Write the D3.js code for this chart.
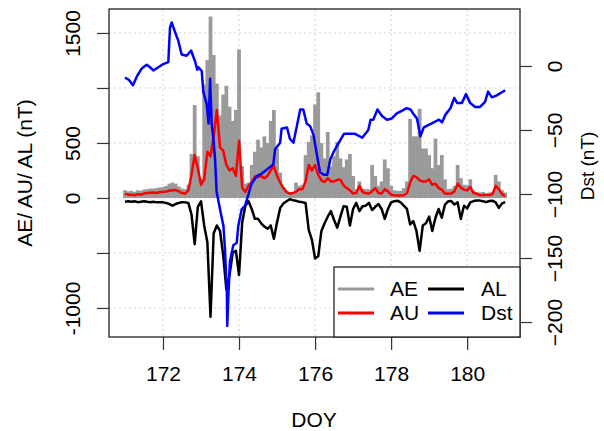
<!DOCTYPE html>
<html>
<head>
<meta charset="utf-8">
<script src="https://cdn.jsdelivr.net/npm/d3@7"></script>
<style>
  body { margin: 0; background: #fff; }
  text { font-family: "Liberation Sans", Arial, sans-serif; fill: #000; }
</style>
</head>
<body>
<div id="chart"></div>
<script>
// 2-hourly samples starting at DOY 171.0
var aeVals = [70,60,65,55,70,65,75,80,85,85, 90,95,100,110,130,140,130,105,85,80,
  120,400,845,380,180,1030,1255,1650,1300,1040, 750,940,1020,830,700,800,1350,290,130,140,
  300,420,530,460,560,500,700,800,450,230, 100,60,40,55,140,110,120,390,510,570,
  850,960,500,360,600,290,380,510,360,280, 350,400,200,80,150,85,80,80,300,200,
  110,150,350,270,110,70,65,65,90,150, 720,560,560,810,450,450,390,270,540,300,
  390,170,80,85,110,300,180,120,115,170, 70,55,50,55,40,50,55,210,150,70,
  50];

var auVals = [40,30,30,25,35,30,40,45,48,50, 45,55,55,58,65,70,73,60,45,40,
  70,210,390,270,120,170,420,380,560,800, 460,430,300,250,270,200,520,90,55,110,
  145,195,190,200,180,200,250,290,200,140, 90,55,40,45,55,80,80,150,300,250,
  300,210,160,145,180,150,150,165,165,115, 90,70,40,45,110,55,42,40,60,90,
  45,40,80,60,30,25,22,22,25,45, 140,200,190,160,150,150,170,120,130,90,
  75,40,38,40,60,130,95,75,70,100, 45,38,25,27,30,25,35,110,80,35,
  15];

var alVals = [-35,-30,-35,-30,-38,-35,-30,-35,-38,-35, -40,-38,-40,-45,-55,-70,-55,-45,-38,-40,
  -45,-150,-420,-80,-30,-250,-400,-1080,-320,-250, -300,-520,-830,-700,-500,-480,-700,-220,-70,-30,
  -100,-190,-190,-230,-260,-280,-250,-370,-220,-90, -50,-30,-12,-20,-25,-35,-38,-45,-290,-380,
  -550,-530,-300,-230,-170,-120,-200,-270,-170,-75, -80,-250,-100,-45,-120,-75,-70,-45,-110,-80,
  -55,-100,-190,-100,-40,-30,-25,-40,-70,-100, -240,-210,-300,-480,-250,-230,-170,-300,-180,-100,
  -180,-60,-30,-28,-60,-40,-190,-70,-95,-40, -28,-24,-24,-30,-38,-28,-25,-40,-90,-50,
  -38];

var dstDoy = [171.0,171.105,171.21,171.316,171.44,171.57,171.66,171.745,171.876,172.008,
  172.14,172.184,172.229,172.276,172.36,172.40,172.49,172.62,172.74,172.80,
  172.84,172.90,172.93,173.02,173.06,173.15,173.20,173.24,173.28,173.32,
  173.37,173.41,173.50,173.59,173.63,173.68,173.69,173.72,173.76,173.85,
  173.94,173.98,174.07,174.16,174.24,174.33,174.47,174.60,174.77,174.90,
  174.95,175.08,175.12,175.26,175.34,175.43,175.52,175.61,175.69,175.78,
  175.87,175.96,176.04,176.13,176.23,176.32,176.40,176.49,176.62,176.76,
  176.89,177.05,177.24,177.40,177.46,177.53,177.64,177.76,177.89,178.02,
  178.15,178.28,178.41,178.51,178.60,178.68,178.77,178.86,178.99,179.12,
  179.26,179.34,179.43,179.56,179.66,179.74,179.86,179.97,180.08,180.21,
  180.34,180.47,180.55,180.65,180.78,180.91,181.0];

var dstVals = [-9,-11,-15,-8,-2,1,-1,-3.5,-1,1.5,
  3,30,34,30,23,20,9,8,12,7,
  4,-3,-1,-4,-20,-30,-45,-10,-45,-55,
  -73,-98,-112,-125,-143,-177,-203,-179,-153,-140,
  -138,-125,-112,-109,-101,-92,-86,-84,-80,-77,
  -65,-60,-49,-48,-57,-60,-47,-34,-34,-45,
  -47,-54,-68,-83,-85,-85,-73,-67,-60,-53,
  -53,-53,-56,-50,-42,-42,-34,-39,-42,-41,
  -37,-35,-33,-34,-38,-41,-55,-48,-46,-44,
  -42,-44,-38,-33,-25,-29,-29,-22,-29,-32,
  -32,-28,-20,-24.5,-23,-20.5,-19];

var doyTicks = [172, 174, 176, 178, 180];
var leftTicks = [-1000, -500, 0, 500, 1000, 1500];
var leftLabels = [-1000, 0, 500, 1500];
var dstTicks = [0, -50, -100, -150, -200];
var legendNames = ["AE", "AU", "AL", "Dst"];
var legendColors = ["#999999", "#ff0000", "#000000", "#0000ff"];

var w = 604, h = 431;
var plotL = 109, plotR = 520, plotT = 9, plotB = 337;

var svg = d3.select("#chart").append("svg")
    .attr("width", w)
    .attr("height", h);

var x = d3.scaleLinear().domain([170.58, 181.39]).range([plotL, plotR]);
var yL = d3.scaleLinear().domain([-1264, 1718]).range([plotB, plotT]);
var yR = d3.scaleLinear().domain([-211.7, 44.5]).range([plotB, plotT]);

var t = aeVals.map(function(d, i) { return 171 + i / 12; });

// grid
svg.append("g").selectAll("line")
    .data(doyTicks).enter().append("line")
    .attr("x1", function(d) { return x(d); }).attr("x2", function(d) { return x(d); })
    .attr("y1", plotT).attr("y2", plotB)
    .attr("stroke", "#d3d3d3").attr("stroke-dasharray", "2,3");
svg.append("g").selectAll("line")
    .data(leftTicks).enter().append("line")
    .attr("x1", plotL).attr("x2", plotR)
    .attr("y1", function(d) { return yL(d); }).attr("y2", function(d) { return yL(d); })
    .attr("stroke", "#d3d3d3").attr("stroke-dasharray", "2,3");

// AE as histogram-like bars (slight overlap so no white seams)
var bw = x(171 + 1 / 12) - x(171);
svg.append("g").selectAll("rect")
    .data(aeVals).enter().append("rect")
    .attr("x", function(d, i) { return x(t[i]) - bw / 2 - 0.3; })
    .attr("width", bw + 0.6)
    .attr("y", function(d) { return yL(d); })
    .attr("height", function(d) { return yL(0) - yL(d); })
    .attr("fill", "#9a9a9a");

function addLine(xs, vals, yScale, color) {
    var line = d3.line()
        .x(function(d, i) { return x(xs[i]); })
        .y(function(d) { return yScale(d); });
    svg.append("path")
        .datum(vals)
        .attr("d", line)
        .attr("fill", "none")
        .attr("stroke", color)
        .attr("stroke-width", 2.5)
        .attr("stroke-linejoin", "round");
}

addLine(t, auVals, yL, "#ff0000");
addLine(t, alVals, yL, "#000000");
addLine(dstDoy, dstVals, yR, "#0000ff");

// axes
var axL = svg.append("g").attr("transform", "translate(" + plotL + ",0)")
    .call(d3.axisLeft(yL).tickValues(leftTicks).tickSize(12)
        .tickFormat(function(d) { return leftLabels.indexOf(d) >= 0 ? d : ""; }));
var axR = svg.append("g").attr("transform", "translate(" + plotR + ",0)")
    .call(d3.axisRight(yR).tickValues(dstTicks).tickSize(12));
var axB = svg.append("g").attr("transform", "translate(0," + plotB + ")")
    .call(d3.axisBottom(x).tickValues(doyTicks).tickSize(13).tickFormat(d3.format("d")));

[axL, axR, axB].forEach(function(a) {
    a.select(".domain").remove();
    a.selectAll(".tick line").attr("stroke", "#333").attr("stroke-width", 1.2);
    a.selectAll(".tick text").style("font-size", "21px")
        .attr("font-family", "Liberation Sans, Arial, sans-serif");
});
axL.selectAll(".tick text")
    .attr("transform", "rotate(-90)")
    .attr("x", 0).attr("y", -36).attr("dy", "0.35em")
    .attr("text-anchor", "middle");
axR.selectAll(".tick text")
    .attr("transform", "rotate(-90)")
    .attr("x", 0).attr("y", 35).attr("dy", "0.35em")
    .attr("text-anchor", "middle");
axB.selectAll(".tick text")
    .attr("y", 37).attr("dy", "0.35em");

// box
svg.append("rect")
    .attr("x", plotL).attr("y", plotT)
    .attr("width", plotR - plotL).attr("height", plotB - plotT)
    .attr("fill", "none").attr("stroke", "#222").attr("stroke-width", 1.3);

// titles
svg.append("text")
    .attr("transform", "translate(25,173) rotate(-90)")
    .attr("text-anchor", "middle").attr("dy", "0.35em")
    .style("font-size", "21px")
    .text("AE/ AU/ AL (nT)");
svg.append("text")
    .attr("transform", "translate(587,166) rotate(-90)")
    .attr("text-anchor", "middle").attr("dy", "0.35em")
    .style("font-size", "19px")
    .text("Dst (nT)");
svg.append("text")
    .attr("x", 314).attr("y", 420).attr("dy", "0.35em")
    .attr("text-anchor", "middle")
    .style("font-size", "21px")
    .text("DOY");

// legend
var lg = svg.append("g");
lg.append("rect")
    .attr("x", 334).attr("y", 267).attr("width", plotR - 334).attr("height", plotB - 267)
    .attr("fill", "#fff").attr("stroke", "#222").attr("stroke-width", 1.3);
var lx = [338, 338, 428, 428], tx = [390, 390, 481, 481], ly = [289, 313, 289, 313];
legendNames.forEach(function(name, i) {
    lg.append("line")
        .attr("x1", lx[i]).attr("x2", lx[i] + 36)
        .attr("y1", ly[i]).attr("y2", ly[i])
        .attr("stroke", legendColors[i]).attr("stroke-width", 3);
    lg.append("text")
        .attr("x", tx[i]).attr("y", ly[i]).attr("dy", "0.35em")
        .style("font-size", "21px")
        .text(name);
});
</script>
</body>
</html>
